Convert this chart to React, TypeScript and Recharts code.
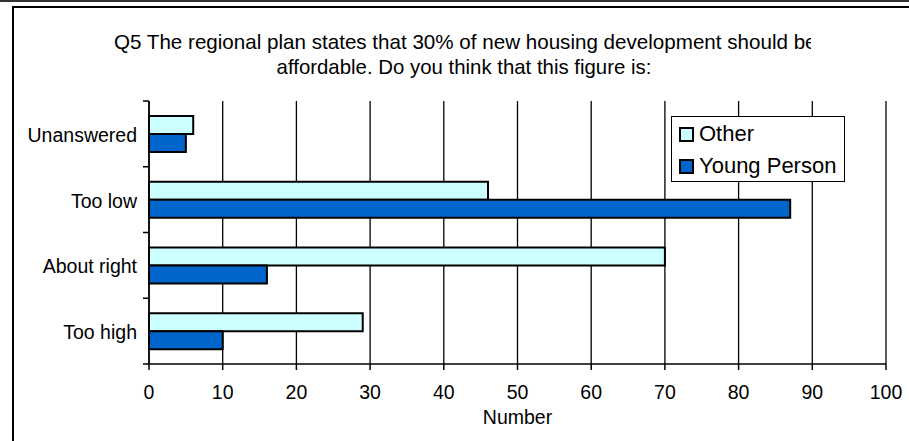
import { BarChart, Bar, XAxis, YAxis, CartesianGrid, Legend } from 'recharts';

const categories = ['Unanswered', 'Too low', 'About right', 'Too high'];
const otherValues = [6, 46, 70, 29];
const youngPersonValues = [5, 87, 16, 10];
const xTicks = [0, 10, 20, 30, 40, 50, 60, 70, 80, 90, 100];

const series = [
  { key: 'other', name: 'Other', color: '#CCFFFF' },
  { key: 'young', name: 'Young Person', color: '#0066CC' },
];

const data = categories.map((category, i) => ({
  category,
  other: otherValues[i],
  young: youngPersonValues[i],
}));

const FONT = '"Liberation Sans", Arial, Helvetica, sans-serif';
const TICK_SIZE = 6;
const TICK_MARGIN = 6;

// category ticks sit on the band edges (Excel style), label in the middle
function CategoryTick(props: any) {
  const { x, y, payload, index, visibleTicksCount } = props;
  const half = payload && payload.offset ? payload.offset : 32.8;
  const lx1 = x + TICK_MARGIN;
  const lx2 = lx1 + TICK_SIZE;
  const last = index === visibleTicksCount - 1;
  return (
    <g>
      <line x1={lx1} x2={lx2} y1={y - half} y2={y - half} stroke="#000" strokeWidth={1.5} />
      {last && <line x1={lx1} x2={lx2} y1={y + half} y2={y + half} stroke="#000" strokeWidth={1.5} />}
      <text x={x} y={y} dy={8} textAnchor="end" fontSize={19.5} fontFamily={FONT} fill="#000">
        {payload.value}
      </text>
    </g>
  );
}

function LegendBox() {
  return (
    <div
      style={{
        width: 172,
        height: 64,
        border: '1.5px solid #000',
        background: '#fff',
        fontFamily: FONT,
        fontSize: 22,
        color: '#000',
        boxSizing: 'content-box',
      }}
    >
      {series.map((s, i) => (
        <div key={s.key} style={{ display: 'flex', alignItems: 'center', height: 32, paddingLeft: 7, marginTop: i === 0 ? 1 : 0 }}>
          <span
            style={{
              display: 'inline-block',
              width: 11,
              height: 11,
              border: '2px solid #000',
              background: s.color,
              marginRight: 5,
            }}
          />
          <span>{s.name}</span>
        </div>
      ))}
    </div>
  );
}

export default function App() {
  return (
    <div style={{ position: 'absolute', left: 0, top: 0, width: 909, height: 441, background: '#fff', overflow: 'hidden' }}>
      {/* page edge line and chart frame */}
      <div style={{ position: 'absolute', left: 0, top: 0, width: 909, height: 2, background: '#333' }} />
      <div
        style={{
          position: 'absolute',
          left: 12,
          top: 6,
          width: 920,
          height: 460,
          borderTop: '2px solid #000',
          borderLeft: '2px solid #000',
        }}
      />

      {/* title, first line clipped by the chart area like the original */}
      <div style={{ position: 'absolute', left: 0, top: 30, width: 811, height: 26, overflow: 'hidden' }}>
        <div
          style={{
            position: 'absolute',
            left: 114,
            width: 700,
            textAlign: 'center',
            whiteSpace: 'nowrap',
            fontFamily: FONT,
            fontSize: 20.6,
            lineHeight: '24px',
            color: '#000',
          }}
        >
          Q5 The regional plan states that 30% of new housing development should be
        </div>
      </div>
      <div
        style={{
          position: 'absolute',
          left: 114,
          top: 55,
          width: 700,
          textAlign: 'center',
          whiteSpace: 'nowrap',
          fontFamily: FONT,
          fontSize: 20.4,
          lineHeight: '24px',
          color: '#000',
        }}
      >
        affordable. Do you think that this figure is:
      </div>

      <div style={{ position: 'absolute', left: 0, top: 0 }}>
        <BarChart
          width={909}
          height={441}
          data={data}
          layout="vertical"
          margin={{ top: 101, right: 23, bottom: 0, left: 0 }}
          barGap={0}
          barSize={18}
        >
          <CartesianGrid horizontal={false} stroke="#000" strokeWidth={1.3} />
          <XAxis
            type="number"
            domain={[0, 100]}
            ticks={xTicks}
            interval={0}
            height={77}
            tickSize={TICK_SIZE}
            tickMargin={15}
            axisLine={{ stroke: '#000', strokeWidth: 1.5 }}
            tickLine={{ stroke: '#000', strokeWidth: 1.5 }}
            tick={{ fill: '#000', fontSize: 19.5, fontFamily: FONT }}
            label={{ value: 'Number', position: 'insideBottom', offset: 17, fill: '#000', fontSize: 19.5, fontFamily: FONT }}
          />
          <YAxis
            type="category"
            dataKey="category"
            width={149}
            tickSize={TICK_SIZE}
            tickMargin={TICK_MARGIN}
            tickLine={false}
            axisLine={{ stroke: '#000', strokeWidth: 1.5 }}
            tick={<CategoryTick />}
            interval={0}
          />
          <Legend
            layout="horizontal"
            verticalAlign="middle"
            align="center"
            wrapperStyle={{ position: 'absolute', left: 671, top: 116, width: 'auto' }}
            content={() => <LegendBox />}
          />
          {series.map((s) => (
            <Bar
              key={s.key}
              dataKey={s.key}
              name={s.name}
              fill={s.color}
              stroke="#000"
              strokeWidth={2}
              isAnimationActive={false}
            />
          ))}
        </BarChart>
      </div>
    </div>
  );
}
